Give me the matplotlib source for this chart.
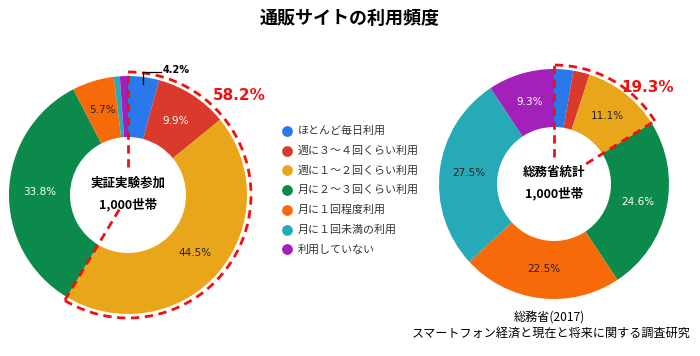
import numpy as np
import matplotlib.pyplot as plt
from matplotlib.patches import Arc

plt.rcParams['font.family'] = ['Noto Sans CJK JP', 'DejaVu Sans']

# data
title = "通販サイトの利用頻度"
categories = ["ほとんど毎日利用", "週に３〜４回くらい利用", "週に１〜２回くらい利用",
              "月に２〜３回くらい利用", "月に１回程度利用", "月に１回未満の利用", "利用していない"]
colors = ["#2979ea", "#d93a2b", "#e9a61a", "#0b8a4b", "#f66a0a", "#27aab7", "#a321b8"]
label_colors = ["#111111", "white", "#222222", "white", "#222222", "#222222", "white"]

survey_values = [4.2, 9.9, 44.5, 33.8, 5.7, 0.8, 1.1]   # 実証実験参加
mic_values = [2.7, 2.3, 11.1, 24.6, 22.5, 27.5, 9.3]     # 総務省統計
survey_total = "58.2%"
mic_total = "19.3%"
survey_center = ["実証実験参加", "1,000世帯"]
mic_center = ["総務省統計", "1,000世帯"]
source = ["総務省(2017)", "スマートフォン経済と現在と将来に関する調査研究"]

W, H = 700, 356
fig = plt.figure(figsize=(7, 3.56), dpi=100)
ax = fig.add_axes([0, 0, 1, 1])


def Y(y):
    return H - y


def donut(values, cx, cy, r, width, n_highlight, total_text, total_pos, center_text, start_r):
    cy = Y(cy)
    ax.pie(values, colors=colors, startangle=90, counterclock=False, radius=r,
           center=(cx, cy), frame=True, wedgeprops=dict(width=width, linewidth=0))
    vals = np.array(values)
    cum = np.cumsum(vals) / vals.sum()
    mids = cum - vals / vals.sum() / 2
    rm = r - width / 2
    for i, v in enumerate(values):
        if v < 5:
            continue
        a = np.deg2rad(90 - 360 * mids[i])
        ax.text(cx + rm * np.cos(a), cy + rm * np.sin(a), f"{v}%", ha='center', va='center',
                fontsize=7.5, color=label_colors[i], family='DejaVu Sans')
    # dashed highlight
    end = 90 - 360 * cum[n_highlight - 1]
    ax.add_patch(Arc((cx, cy), 2 * (r + 4), 2 * (r + 4), theta1=end, theta2=90,
                     color='#ee1111', lw=2, ls=(0, (3, 2))))
    for ang, r0 in [(90, start_r[0]), (end, start_r[1])]:
        a = np.deg2rad(ang)
        ax.plot([cx + r0 * np.cos(a), cx + (r + 4) * np.cos(a)],
                [cy + r0 * np.sin(a), cy + (r + 4) * np.sin(a)],
                color='#ee1111', lw=2, ls=(0, (3, 2)))
    ax.text(total_pos[0], Y(total_pos[1]), total_text, ha='center', va='center',
            fontsize=11, fontweight='bold', color='#ee1111', family='DejaVu Sans')
    ax.text(cx, cy + 12, center_text[0], ha='center', va='center', fontsize=9, fontweight='bold')
    ax.text(cx, cy - 9, center_text[1], ha='center', va='center', fontsize=9, fontweight='bold')
    return cx, cy, mids


cx, cy, mids = donut(survey_values, 128, 195, 119, 61, 3, survey_total, (239, 96),
                     survey_center, (28, 17))
# leader for the small blue slice
a = np.deg2rad(90 - 360 * mids[0])
x0 = cx + 112 * np.cos(a)
ax.plot([x0, x0, x0 + 18], [cy + 112 * np.sin(a), cy + 123, cy + 123], color='black', lw=0.9)
ax.text(x0 + 20, cy + 125, f"{survey_values[0]}%", ha='left', va='center', fontsize=7,
        fontweight='bold', family='DejaVu Sans')

donut(mic_values, 554, 184, 115, 58, 3, mic_total, (648, 88), mic_center, (27, 38))

# legend
for i, (c, name) in enumerate(zip(colors, categories)):
    yy = Y(131 + i * 19.7)
    ax.scatter([287], [yy], s=60, color=c, linewidths=0)
    ax.text(298, yy, name, ha='left', va='center', fontsize=7.9, color='#333333')

ax.text(350, Y(18), title, ha='center', va='center', fontsize=13, fontweight='bold')
ax.text(549, Y(318), source[0], ha='center', va='center', fontsize=8.7)
ax.text(551, Y(333), source[1], ha='center', va='center', fontsize=8.7)

ax.set_xlim(0, W)
ax.set_ylim(0, H)
ax.set_aspect('equal')
ax.axis('off')
fig.savefig("out.png", dpi=100, facecolor='white')
